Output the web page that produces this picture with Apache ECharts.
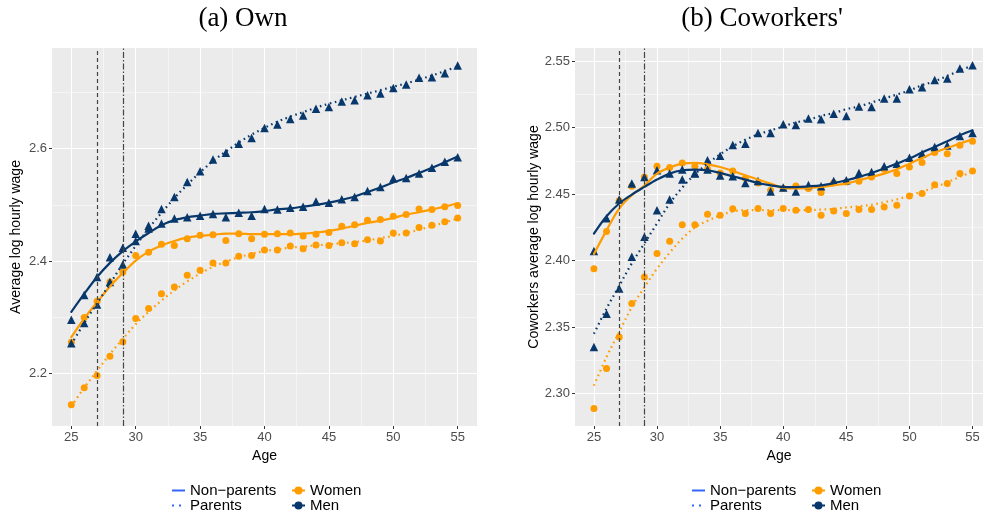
<!DOCTYPE html>
<html><head><meta charset="utf-8">
<script src="https://cdn.jsdelivr.net/npm/echarts@6/dist/echarts.min.js"></script>
<style>html,body{margin:0;padding:0;background:#fff}#c{width:985px;height:515px}</style>
</head><body><div id="c"></div>
<script>
// ---------------- data ----------------
const ages = [25,26,27,28,29,30,31,32,33,34,35,36,37,38,39,40,41,42,43,44,45,46,47,48,49,50,51,52,53,54,55];

// (a) Own
const ownWomenNP = [2.256,2.300,2.329,2.363,2.381,2.410,2.416,2.430,2.428,2.440,2.446,2.447,2.437,2.449,2.440,2.448,2.449,2.450,2.445,2.448,2.451,2.462,2.465,2.473,2.474,2.480,2.483,2.493,2.492,2.497,2.499];
const ownWomenP  = [2.145,2.175,2.197,2.231,2.257,2.298,2.316,2.342,2.354,2.375,2.384,2.397,2.397,2.409,2.410,2.420,2.420,2.427,2.422,2.429,2.428,2.433,2.431,2.438,2.436,2.450,2.450,2.460,2.464,2.470,2.477];
const ownMenNP   = [2.296,2.340,2.372,2.407,2.424,2.436,2.458,2.467,2.476,2.478,2.481,2.484,2.478,2.486,2.481,2.493,2.492,2.495,2.497,2.506,2.504,2.510,2.514,2.525,2.532,2.547,2.548,2.556,2.566,2.577,2.585];
const ownMenP    = [2.254,2.290,2.323,2.363,2.394,2.449,2.463,2.493,2.514,2.541,2.560,2.581,2.593,2.609,2.619,2.637,2.643,2.653,2.659,2.671,2.674,2.684,2.686,2.695,2.698,2.708,2.714,2.726,2.727,2.734,2.748];
const ownWomenNPFit = [2.265,2.298,2.327,2.355,2.379,2.401,2.417,2.428,2.436,2.442,2.445,2.447,2.449,2.449,2.448,2.448,2.448,2.448,2.449,2.451,2.454,2.458,2.463,2.468,2.472,2.477,2.483,2.487,2.492,2.497,2.503];
const ownWomenPFit  = [2.142,2.175,2.205,2.235,2.262,2.288,2.310,2.330,2.348,2.364,2.378,2.390,2.399,2.407,2.413,2.418,2.421,2.424,2.426,2.428,2.430,2.432,2.434,2.437,2.441,2.445,2.450,2.456,2.462,2.469,2.476];
const ownMenNPFit   = [2.310,2.342,2.372,2.397,2.418,2.435,2.450,2.464,2.473,2.478,2.481,2.484,2.485,2.486,2.487,2.489,2.492,2.494,2.497,2.500,2.504,2.509,2.515,2.523,2.531,2.540,2.548,2.557,2.566,2.576,2.586];
const ownMenPFit    = [2.252,2.290,2.325,2.360,2.395,2.427,2.458,2.486,2.512,2.536,2.558,2.578,2.595,2.611,2.625,2.637,2.648,2.657,2.665,2.673,2.680,2.686,2.692,2.698,2.704,2.710,2.716,2.723,2.730,2.738,2.746];

// (b) Coworkers'
const cwWomenNP = [2.394,2.422,2.445,2.456,2.463,2.471,2.470,2.4735,2.471,2.469,2.466,2.4675,2.462,2.4584,2.4529,2.4542,2.4562,2.4542,2.4512,2.4587,2.4592,2.4597,2.463,2.4687,2.4655,2.4705,2.4738,2.4813,2.4805,2.4868,2.4898];
const cwWomenP  = [2.2887,2.3188,2.3426,2.3677,2.3877,2.4053,2.4146,2.4271,2.4271,2.4349,2.4341,2.439,2.4354,2.4392,2.4354,2.4392,2.4379,2.4384,2.4341,2.4374,2.4354,2.4384,2.4384,2.4404,2.4416,2.4487,2.4505,2.4572,2.458,2.4655,2.4675];
const cwMenNP   = [2.4073,2.432,2.446,2.458,2.463,2.468,2.4655,2.4685,2.4655,2.4685,2.464,2.4635,2.4585,2.460,2.452,2.455,2.452,2.457,2.456,2.460,2.4605,2.466,2.4667,2.471,2.473,2.4775,2.4805,2.4855,2.4866,2.4938,2.496];
const cwMenP    = [2.335,2.360,2.379,2.403,2.418,2.438,2.446,2.461,2.466,2.4755,2.479,2.487,2.488,2.496,2.496,2.5026,2.502,2.507,2.5064,2.5106,2.5088,2.516,2.5156,2.522,2.522,2.529,2.5305,2.536,2.537,2.5445,2.547];
const cwWomenNPFit = [2.405,2.4228,2.4392,2.4492,2.4565,2.4655,2.470,2.473,2.4735,2.4725,2.4705,2.4675,2.4642,2.461,2.458,2.4547,2.4543,2.4547,2.4554,2.4567,2.458,2.4605,2.463,2.4655,2.4687,2.473,2.4772,2.4813,2.4848,2.4881,2.4913];
const cwWomenPFit  = [2.306,2.3275,2.3463,2.365,2.380,2.394,2.406,2.4166,2.425,2.430,2.434,2.437,2.438,2.438,2.438,2.438,2.438,2.438,2.4385,2.439,2.440,2.441,2.442,2.444,2.446,2.449,2.452,2.455,2.459,2.463,2.467];
const cwMenNPFit   = [2.4203,2.4334,2.443,2.4497,2.4555,2.461,2.4655,2.468,2.4685,2.468,2.466,2.4635,2.461,2.4584,2.4567,2.4554,2.4554,2.4559,2.4567,2.4584,2.4605,2.463,2.466,2.4693,2.473,2.4768,2.4813,2.4855,2.4898,2.4943,2.4981];
const cwMenPFit    = [2.345,2.364,2.381,2.398,2.413,2.428,2.443,2.455,2.465,2.473,2.480,2.486,2.491,2.495,2.498,2.501,2.504,2.506,2.509,2.511,2.514,2.516,2.519,2.522,2.525,2.528,2.532,2.535,2.539,2.543,2.547];

// ticks
const xTicks = [25,30,35,40,45,50,55];
const xMinor = [27.5,32.5,37.5,42.5,47.5,52.5];
const ownYTicks = [2.2,2.4,2.6];
const ownYMinor = [2.3,2.5,2.7];
const cwYTicks = [2.30,2.35,2.40,2.45,2.50,2.55];
const cwYMinor = [2.325,2.375,2.425,2.475,2.525];
const refAges = [27, 29];

const titles = ['(a) Own', "(b) Coworkers'"];
const yNames = ['Average log hourly wage', 'Coworkers average log hourly wage'];
const legendLine = ['Non\u2212parents', 'Parents'];
const legendGroup = ['Women', 'Men'];

// ---------------- styles ----------------
const ORANGE = '#FF9C00';
const NAVY = '#08386B';
const BLUE = '#3366FF';
const DOT = [1.6, 3.6];
const FONT = 'Liberation Sans';

const pairs = v => ages.map((a, i) => [a, v[i]]);

const grids = [
  {left: 52, top: 48, width: 425, height: 378},
  {left: 575, top: 48, width: 408, height: 378}
];
const xRanges = [[23.5, 56.5], [23.5, 55.83]];
const yRanges = [[2.107, 2.779], [2.2756, 2.56]];
const yMajor = [ownYTicks, cwYTicks];
const yMinorV = [ownYMinor, cwYMinor];
const yFmt = [v => v.toFixed(1), v => v.toFixed(2)];
const nameGaps = [29, 31];

const xAxis = [], yAxis = [];
for (let g = 0; g < 2; g++) {
  xAxis.push({
    type: 'value', gridIndex: g, min: xRanges[g][0], max: xRanges[g][1],
    name: 'Age', nameLocation: 'middle', nameGap: 16,
    nameTextStyle: {color: '#000', fontSize: 14, fontFamily: FONT},
    axisLine: {show: false},
    axisTick: {show: true, length: 3, lineStyle: {color: '#333', width: 1}, customValues: xTicks},
    axisLabel: {customValues: xTicks, color: '#4D4D4D', fontSize: 13, margin: 5, fontFamily: FONT},
    splitLine: {show: true, lineStyle: {color: '#fff', width: 1.1}}
  });
  xAxis.push({
    type: 'value', gridIndex: g, min: xRanges[g][0], max: xRanges[g][1],
    axisLine: {show: false}, axisLabel: {show: false},
    axisTick: {show: false, customValues: xMinor},
    splitLine: {show: true, lineStyle: {color: '#fff', width: 0.5}}
  });
  yAxis.push({
    type: 'value', gridIndex: g, min: yRanges[g][0], max: yRanges[g][1],
    name: yNames[g], nameLocation: 'middle', nameGap: nameGaps[g],
    nameTextStyle: {color: '#000', fontSize: 14, fontFamily: FONT},
    axisLine: {show: false},
    axisTick: {show: true, length: 3, lineStyle: {color: '#333', width: 1}, customValues: yMajor[g]},
    axisLabel: {customValues: yMajor[g], color: '#4D4D4D', fontSize: 13, margin: 5, fontFamily: FONT, formatter: yFmt[g]},
    splitLine: {show: true, lineStyle: {color: '#fff', width: 1.1}}
  });
  yAxis.push({
    type: 'value', gridIndex: g, min: yRanges[g][0], max: yRanges[g][1],
    axisLine: {show: false}, axisLabel: {show: false},
    axisTick: {show: false, customValues: yMinorV[g]},
    splitLine: {show: true, lineStyle: {color: '#fff', width: 0.5}}
  });
}

const panels = [
  {wNP: ownWomenNP, wP: ownWomenP, mNP: ownMenNP, mP: ownMenP,
   wNPf: ownWomenNPFit, wPf: ownWomenPFit, mNPf: ownMenNPFit, mPf: ownMenPFit},
  {wNP: cwWomenNP, wP: cwWomenP, mNP: cwMenNP, mP: cwMenP,
   wNPf: cwWomenNPFit, wPf: cwWomenPFit, mNPf: cwMenNPFit, mPf: cwMenPFit}
];

const series = [];
panels.forEach((p, g) => {
  const ax = {xAxisIndex: g * 2, yAxisIndex: g * 2};
  const sc = (name, data, symbol, size, color, extra) => Object.assign({
    type: 'scatter', name, data: pairs(data), symbol, symbolSize: size,
    itemStyle: {color, opacity: 1}, silent: true, z: 3
  }, ax, extra || {});
  const ln = (name, data, color, type) => Object.assign({
    type: 'line', name, data: pairs(data), smooth: 0.35, showSymbol: false, symbol: 'none',
    lineStyle: {color, width: type === 'solid' ? 2.2 : 2.2, type, cap: type === 'solid' ? 'round' : 'butt'},
    silent: true, z: 4
  }, ax);
  series.push(sc('wNP' + g, p.wNP, 'circle', 7, ORANGE, {
    markLine: {
      silent: true, symbol: ['none', 'none'], label: {show: false},
      lineStyle: {color: '#444', width: 1.2},
      data: [
        {xAxis: refAges[0], lineStyle: {type: [4, 3], color: '#444', width: 1.2}},
        {xAxis: refAges[1], lineStyle: {type: [6, 2, 1.5, 2], color: '#444', width: 1.2}}
      ]
    }
  }));
  series.push(sc('wP' + g, p.wP, 'circle', 7, ORANGE));
  series.push(sc('mNP' + g, p.mNP, 'triangle', 8.5, NAVY));
  series.push(sc('mP' + g, p.mP, 'triangle', 8.5, NAVY));
  series.push(ln('wNPf' + g, p.wNPf, ORANGE, 'solid'));
  series.push(ln('wPf' + g, p.wPf, ORANGE, DOT));
  series.push(ln('mNPf' + g, p.mNPf, NAVY, 'solid'));
  series.push(ln('mPf' + g, p.mPf, NAVY, DOT));
});

// legend-only series
series.push({type: 'line', name: legendLine[0], data: [], xAxisIndex: 0, yAxisIndex: 0, symbol: 'none',
  itemStyle: {color: BLUE}, lineStyle: {color: BLUE, width: 2, type: 'solid'}});
series.push({type: 'line', name: legendLine[1], data: [], xAxisIndex: 0, yAxisIndex: 0, symbol: 'none',
  itemStyle: {color: BLUE}, lineStyle: {color: BLUE, width: 2, type: [2, 5], cap: 'butt'}});
series.push({type: 'line', name: legendGroup[0], data: [], xAxisIndex: 0, yAxisIndex: 0, symbol: 'circle', symbolSize: 6,
  itemStyle: {color: ORANGE}, lineStyle: {color: ORANGE, width: 2}});
series.push({type: 'line', name: legendGroup[1], data: [], xAxisIndex: 0, yAxisIndex: 0, symbol: 'circle', symbolSize: 6,
  itemStyle: {color: NAVY}, lineStyle: {color: NAVY, width: 2}});

const legBase = {orient: 'vertical', top: 483, padding: 0, itemGap: 0, itemWidth: 13, itemHeight: 10,
  selectedMode: false, textStyle: {fontSize: 15, color: '#000', fontFamily: FONT, lineHeight: 14}};
const legendPos = [[171, 291], [691, 811]];
const legend = [];
legendPos.forEach(([a, b]) => {
  legend.push(Object.assign({}, legBase, {left: a,
    data: legendLine.map(n => ({name: n, itemStyle: {opacity: 0}}))}));
  legend.push(Object.assign({}, legBase, {left: b, data: legendGroup}));
});

const titleX = [243, 762];
const graphic = titles.map((t, i) => ({
  type: 'text', x: titleX[i], y: 19, silent: true,
  style: {text: t, fontSize: 27, fontFamily: 'Liberation Serif', fill: '#000',
    align: 'center', verticalAlign: 'middle', textAlign: 'center', textVerticalAlign: 'middle'}
}));

const chart = echarts.init(document.getElementById('c'), null, {renderer: 'canvas'});
chart.setOption({
  animation: false,
  backgroundColor: '#fff',
  textStyle: {fontFamily: FONT},
  grid: grids.map(g => Object.assign({show: true, backgroundColor: '#EBEBEB', borderWidth: 0}, g)),
  xAxis, yAxis, series, legend, graphic
});
</script></body></html>
